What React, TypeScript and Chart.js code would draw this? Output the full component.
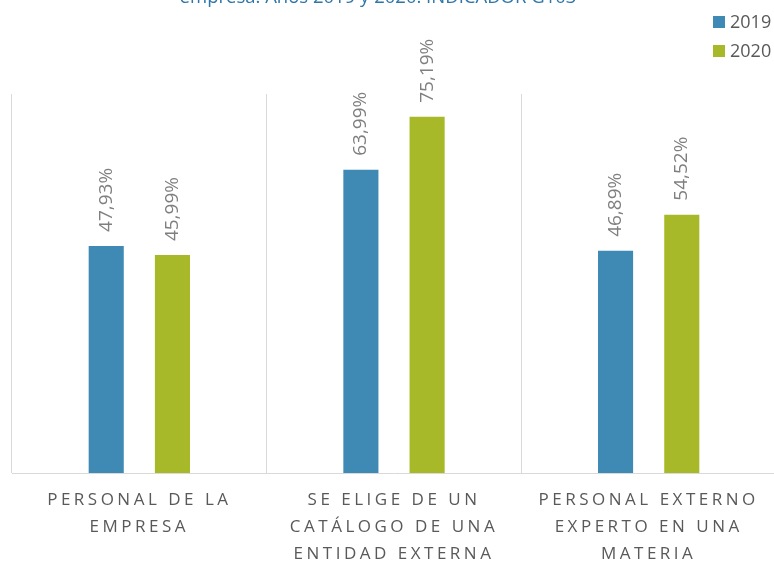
import React, { useEffect, useRef } from "react";
import { Chart, registerables } from "chart.js";

Chart.register(...registerables);

const categories: string[][] = [
  ["PERSONAL DE LA", "EMPRESA"],
  ["SE ELIGE DE UN", "CATÁLOGO DE UNA", "ENTIDAD EXTERNA"],
  ["PERSONAL EXTERNO", "EXPERTO EN UNA", "MATERIA"],
];
const seriesLabels = ["2019", "2020"];
const values2019 = [47.93, 63.99, 46.89];
const values2020 = [45.99, 75.19, 54.52];
const titleText = "empresa. Años 2019 y 2020. INDICADOR G103";

const BLUE = "#3E8AB5";
const GREEN = "#A7B928";
const GRID = "#d9d9d9";
const TEXT = "#595959";
const FONT = "'Open Sans', sans-serif";

const fmt = (v: number) => v.toFixed(2).replace(".", ",") + "%";

export default function App() {
  const ref = useRef<HTMLCanvasElement | null>(null);

  useEffect(() => {
    const canvas = ref.current;
    if (!canvas) return;

    const spacingPlugin = {
      id: "spacing",
      beforeDraw(chart: any) {
        (chart.ctx as any).letterSpacing = "3.5px";
      },
      beforeDatasetsDraw(chart: any) {
        (chart.ctx as any).letterSpacing = "0px";
      },
    };

    const labelsPlugin = {
      id: "valueLabels",
      afterDatasetsDraw(chart: any) {
        const ctx = chart.ctx as CanvasRenderingContext2D;
        ctx.save();
        (ctx as any).letterSpacing = "0px";
        ctx.font = `19px ${FONT}`;
        ctx.fillStyle = "#7f7f7f";
        chart.data.datasets.forEach((ds: any, di: number) => {
          const meta = chart.getDatasetMeta(di);
          meta.data.forEach((el: any, i: number) => {
            ctx.save();
            ctx.translate(el.x, el.y - 14);
            ctx.rotate(-Math.PI / 2);
            ctx.textAlign = "left";
            ctx.textBaseline = "middle";
            ctx.fillText(fmt(ds.data[i]), 0, 0);
            ctx.restore();
          });
        });
        ctx.restore();
      },
      afterDraw(chart: any) {
        const ctx = chart.ctx as CanvasRenderingContext2D;
        ctx.save();
        (ctx as any).letterSpacing = "0px";
        // cropped title
        ctx.font = `18.5px ${FONT}`;
        ctx.fillStyle = "#2F75A8";
        ctx.textAlign = "center";
        ctx.textBaseline = "alphabetic";
        ctx.fillText(titleText, 378, 3);
        // legend
        ctx.font = `18px ${FONT}`;
        ctx.textAlign = "left";
        ctx.textBaseline = "middle";
        chart.data.datasets.forEach((ds: any, di: number) => {
          const cy = 22 + di * 29;
          ctx.fillStyle = ds.backgroundColor;
          ctx.fillRect(713, cy - 6, 12, 12);
          ctx.fillStyle = TEXT;
          ctx.fillText(ds.label, 730, cy + 1);
        });
        ctx.restore();
      },
    };

    const chart = new Chart(canvas, {
      type: "bar",
      data: {
        labels: categories,
        datasets: [
          { label: seriesLabels[0], data: values2019, backgroundColor: BLUE },
          { label: seriesLabels[1], data: values2020, backgroundColor: GREEN },
        ],
      },
      options: {
        responsive: false,
        animation: false,
        layout: { padding: { left: 12, right: 0, top: 94, bottom: 0 } },
        datasets: {
          bar: { categoryPercentage: 0.52, barPercentage: 0.53 },
        },
        plugins: {
          legend: { display: false },
          title: { display: false },
          tooltip: { enabled: false },
        },
        scales: {
          x: {
            offset: true,
            grid: {
              display: true,
              offset: true,
              color: GRID,
              lineWidth: 1,
              drawTicks: false,
            },
            border: { display: true, color: GRID, width: 1 },
            ticks: {
              color: TEXT,
              font: { family: FONT, size: 17, lineHeight: "27px" } as any,
              padding: 14,
              maxRotation: 0,
              minRotation: 0,
              autoSkip: false,
            },
            afterFit: (scale: any) => {
              scale.height = 88;
            },
          },
          y: {
            display: false,
            min: 0,
            max: 80,
          },
        },
      },
      plugins: [spacingPlugin, labelsPlugin],
    });

    return () => chart.destroy();
  }, []);

  return (
    <div
      style={{
        position: "fixed",
        left: 0,
        top: 0,
        width: 774,
        height: 561,
        overflow: "hidden",
        background: "#fff",
      }}
    >
      <canvas ref={ref} width={776} height={561} style={{ display: "block" }} />
    </div>
  );
}
